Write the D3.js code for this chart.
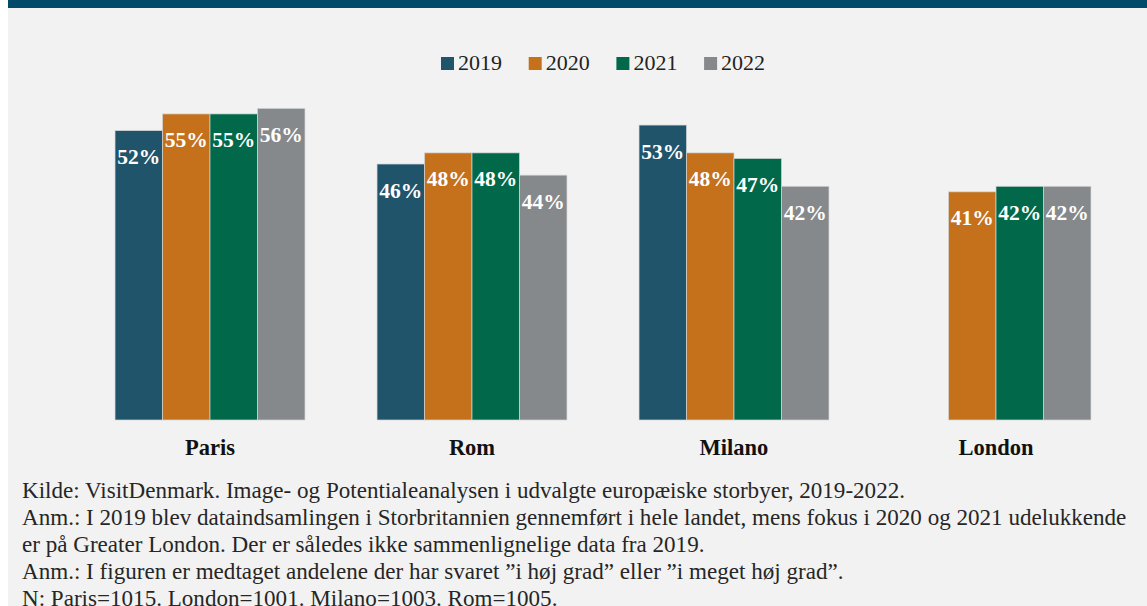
<!DOCTYPE html>
<html>
<head>
<meta charset="utf-8">
<script src="https://cdn.jsdelivr.net/npm/d3@7"></script>
<style>
  body { margin: 0; background: #fff; }
</style>
</head>
<body>
<svg id="chart"></svg>
<script>
// data
var cities = ["Paris", "Rom", "Milano", "London"];
var years = ["2019", "2020", "2021", "2022"];
var v2019 = [52, 46, 53, null];
var v2020 = [55, 48, 48, 41];
var v2021 = [55, 48, 47, 42];
var v2022 = [56, 44, 42, 42];
var colors = ["#20546b", "#c5711b", "#01694a", "#85898c"];
var notes = [
  "Kilde: VisitDenmark. Image- og Potentialeanalysen i udvalgte europæiske storbyer, 2019-2022.",
  "Anm.: I 2019 blev dataindsamlingen i Storbritannien gennemført i hele landet, mens fokus i 2020 og 2021 udelukkende",
  "er på Greater London. Der er således ikke sammenlignelige data fra 2019.",
  "Anm.: I figuren er medtaget andelene der har svaret \u201di høj grad\u201d eller \u201di meget høj grad\u201d.",
  "N: Paris=1015. London=1001. Milano=1003. Rom=1005."
];

var series = [v2019, v2020, v2021, v2022];
var rows = [];
cities.forEach(function(c, i) {
  years.forEach(function(yr, j) {
    if (series[j][i] != null) rows.push({city: c, year: yr, value: series[j][i]});
  });
});

var W = 1147, H = 606;
var serif = "'Liberation Serif'";
var svg = d3.select("#chart").attr("width", W).attr("height", H);

// background + top band
svg.append("rect").attr("x", 8).attr("y", 0).attr("width", W - 8).attr("height", H).attr("fill", "#f2f2f2");
svg.append("rect").attr("x", 8).attr("y", 0).attr("width", W - 8).attr("height", 8).attr("fill", "#024a69");

// scales
var x0 = d3.scaleBand().domain(cities).range([79, 1127]).paddingInner(0.275).paddingOuter(0.1375);
var x1 = d3.scaleBand().domain(years).range([0, x0.bandwidth()]);
var y = d3.scaleLinear().domain([0, 60]).range([420, 420 - 60 * 5.565]);
var color = d3.scaleOrdinal().domain(years).range(colors);

// bars
svg.append("g").selectAll("rect")
  .data(rows)
  .enter()
  .append("rect")
    .attr("x", function(d) { return x0(d.city) + x1(d.year); })
    .attr("y", function(d) { return y(d.value); })
    .attr("width", x1.bandwidth())
    .attr("height", function(d) { return y(0) - y(d.value); })
    .attr("fill", function(d) { return color(d.year); })
    .attr("stroke", "#d3d6d8")
    .attr("stroke-width", 0.7);

// value labels inside bars
svg.append("g").selectAll("text")
  .data(rows)
  .enter()
  .append("text")
    .attr("x", function(d) { return x0(d.city) + x1(d.year) + x1.bandwidth() / 2; })
    .attr("y", function(d) { return y(d.value) + 33.5; })
    .attr("text-anchor", "middle")
    .attr("font-family", serif)
    .attr("fill", "#ffffff")
    .attr("font-weight", "bold")
    .attr("font-size", 21.5)
    .text(function(d) { return d.value + "%"; });

// category labels
svg.append("g").selectAll("text")
  .data(cities)
  .enter()
  .append("text")
    .attr("x", function(d) { return x0(d) + x0.bandwidth() / 2; })
    .attr("y", 455)
    .attr("text-anchor", "middle")
    .attr("font-family", serif)
    .attr("fill", "#111")
    .attr("font-weight", "bold")
    .attr("font-size", 22.5)
    .text(function(d) { return d; });

// legend
var legend = svg.append("g").selectAll("g")
  .data(years)
  .enter()
  .append("g")
    .attr("transform", function(d, i) { return "translate(" + (441 + i * 87.7) + ",57)"; });
legend.append("rect").attr("width", 13).attr("height", 13).attr("fill", function(d) { return color(d); });
legend.append("text").attr("x", 17).attr("y", 13).attr("font-size", 22).attr("fill", "#222")
  .attr("font-family", serif)
  .text(function(d) { return d; });

// footnotes, sized so the long line fits like the original
var foot = svg.append("g").selectAll("text")
  .data(notes)
  .enter()
  .append("text")
    .attr("x", 22)
    .attr("y", function(d, i) { return 498 + i * 27; })
    .attr("font-family", serif)
    .attr("font-size", 20)
    .attr("fill", "#262626")
    .text(function(d) { return d; });
var longW = foot.nodes()[1].getComputedTextLength();
foot.attr("font-size", (20 * 1105 / longW).toFixed(2));
</script>
</body>
</html>
